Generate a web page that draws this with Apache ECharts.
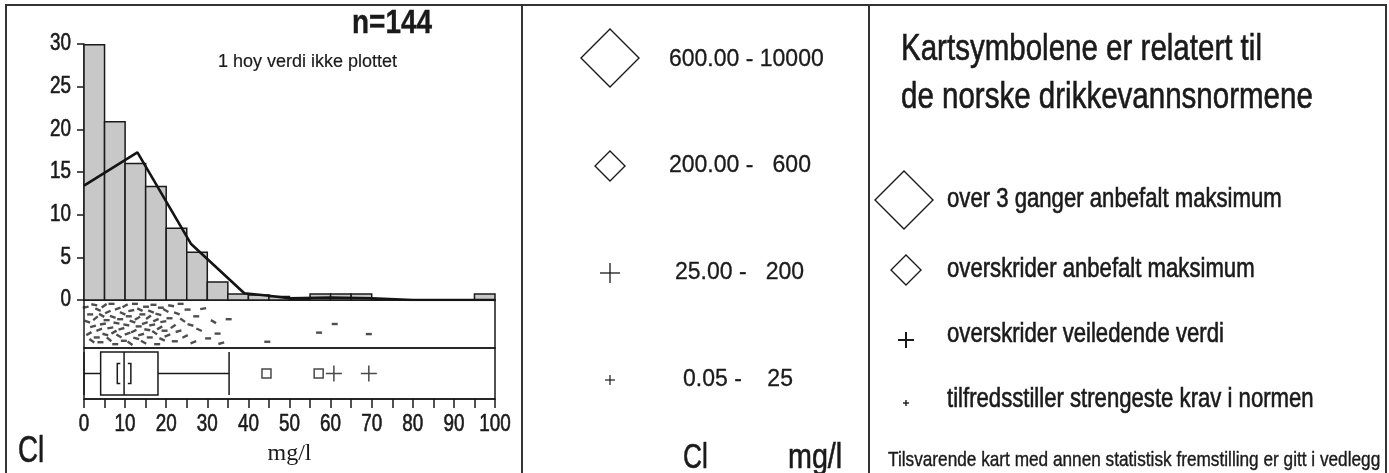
<!DOCTYPE html>
<html><head><meta charset="utf-8">
<script src="https://cdn.jsdelivr.net/npm/echarts@6/dist/echarts.min.js"></script>
<style>html,body{margin:0;padding:0;background:#fff;}#c{width:1389px;height:473px;}</style>
</head><body><div id="c"></div>
<script>
// ---- data ----
var binStarts = [0,5,10,15,20,25,30,35,40,45,50,55,60,65,70,75,80,85,90,95];
var binPercent = [29.9,20.9,16.0,13.3,8.4,5.6,2.1,0.7,0.6,0.4,0,0.7,0.7,0.7,0,0,0,0,0,0.7];
var curveX = [0,13,26,39,45,50,60,70,80,100];
var curveY = [13.4,17.3,6.6,0.8,0.5,0.2,0.3,0.2,0,0];
var yTicks = [0,5,10,15,20,25,30];
var xTicks = [0,10,20,30,40,50,60,70,80,90,100];
var boxStats = [0, 4.05, 9.75, 18.0, 35.3]; // min, q1, median, q3, upper whisker
var medianCI = [8.1, 11.4];
var outlierSquares = [44.4, 57.1];
var outlierPlus = [60.8, 69.3];
// jitter strip: [value, vertical position 0-1, dash rotation]
var stripPts = [[0.4,0.85,10],[0.8,0.55,-20],[1.2,0.30,30],[1.5,0.70,0],[1.9,0.15,-35],[2.2,0.45,15],[2.5,0.90,-10],[2.8,0.62,40],[3.1,0.22,0],[3.4,0.80,-25],[3.7,0.38,20],[4.0,0.12,0],[4.3,0.68,-30],[4.6,0.50,10],[4.9,0.88,35],
[5.2,0.28,-15],[5.5,0.58,0],[5.8,0.75,25],[6.1,0.18,-40],[6.4,0.42,10],[6.7,0.92,0],[7.0,0.65,-20],[7.3,0.33,30],[7.6,0.08,0],[7.9,0.52,-10],[8.2,0.82,20],[8.5,0.25,-30],[8.8,0.60,0],[9.1,0.40,15],[9.4,0.72,-25],
[9.7,0.15,0],[10.0,0.88,30],[10.3,0.48,-10],[10.6,0.30,20],[10.9,0.66,0],[11.2,0.10,-35],[11.5,0.78,10],[11.8,0.55,-20],[12.1,0.35,25],[12.4,0.92,0],[12.7,0.20,-15],[13.0,0.62,30],[13.3,0.45,0],[13.6,0.80,-25],[13.9,0.28,15],
[14.2,0.70,0],[14.5,0.12,-30],[14.8,0.52,20],[15.1,0.86,0],[15.4,0.38,-10],[15.7,0.64,35],[16.0,0.22,0],[16.3,0.76,-20],[16.6,0.48,10],[16.9,0.90,0],[17.2,0.32,-35],[17.5,0.58,25],[17.8,0.08,0],[18.1,0.70,-15],[18.4,0.42,30],
[18.7,0.84,0],[19.0,0.18,-25],[19.3,0.55,10],[19.6,0.36,0],[19.9,0.78,-30],[20.3,0.26,20],[20.8,0.62,0],[21.2,0.88,-10],[21.7,0.45,35],[22.1,0.14,0],[22.6,0.72,-20],[23.0,0.35,15],[23.5,0.92,0],[24.0,0.58,-35],[24.6,0.24,25],
[25.2,0.80,0],[25.9,0.48,-15],[26.6,0.12,20],[27.3,0.66,0],[28.0,0.38,-25],[29.0,0.82,10],[30.2,0.20,0],[31.5,0.55,-30],[32.5,0.30,0],[33.4,0.10,15],[35.2,0.60,0],[44.6,0.13,0],[57.2,0.32,0],[61.0,0.50,0],[69.3,0.29,0]];
var legendRanges = ['600.00 - 10000','200.00 -   600','25.00 -   200','0.05 -    25'];
var normTexts = ['over 3 ganger anbefalt maksimum','overskrider anbefalt maksimum','overskrider veiledende verdi','tilfredsstiller strengeste krav i normen'];

var REG = '"Liberation Sans", Arial, sans-serif';
var INK = '#1a1a1a';
var NX = 0.82; // horizontal squeeze to imitate a narrow grotesque

var chart = echarts.init(document.getElementById('c'), null, {renderer:'canvas'});
var histData = binStarts.map(function(s,i){return [s, s+5, binPercent[i]];});
var plusPath = 'path://M0,5L10,5M5,0L5,10';

function diamond(cx,cy,h){return {type:'polygon',shape:{points:[[cx-h,cy],[cx,cy-h],[cx+h,cy],[cx,cy+h]]},style:{fill:'none',stroke:INK,lineWidth:1.4}};}
function plus(cx,cy,h,w){return {type:'group',children:[
  {type:'line',shape:{x1:cx-h,y1:cy,x2:cx+h,y2:cy},style:{stroke:INK,lineWidth:w}},
  {type:'line',shape:{x1:cx,y1:cy-h,x2:cx,y2:cy+h},style:{stroke:INK,lineWidth:w}}]};}
function txt(x,y,s,size,o){o=o||{};var sx=(o.sx==null?NX:o.sx);return {type:'text',x:x,y:y,scaleX:sx,z:10,
  style:{text:s,x:0,y:0,fill:INK,fontSize:size,fontFamily:o.fam||REG,fontWeight:o.bold?'bold':'normal',
    stroke:INK,lineWidth:(o.bw==null?(sx<1?0.6:0.3):o.bw),
    align:o.align||'left',verticalAlign:'middle',textAlign:o.align||'left',textVerticalAlign:'middle'}};}

var graphics = [
  {type:'rect',shape:{x:6,y:5,width:1380,height:480},style:{fill:'none',stroke:'#333',lineWidth:2}},
  {type:'line',shape:{x1:522,y1:5,x2:522,y2:473},style:{stroke:'#333',lineWidth:2}},
  {type:'line',shape:{x1:869,y1:5,x2:869,y2:473},style:{stroke:'#333',lineWidth:2}},
  txt(392,24,'n=144',34,{align:'center',bold:true,bw:0.4}),
  txt(218,62,'1 hoy verdi ikke plottet',18,{sx:1,bw:0.2}),
  txt(18,452,'Cl',37,{sx:0.75}),
  // middle legend
  diamond(610,58,29), txt(669,60,legendRanges[0],23,{sx:1}),
  diamond(610,166,15), txt(669,166,legendRanges[1],23,{sx:1}),
  plus(610,273,10,1.3), txt(675,273,legendRanges[2],23,{sx:1}),
  plus(610,380,5,1.2), txt(683,380,legendRanges[3],23,{sx:1}),
  txt(683,458,'Cl',35,{sx:0.75}), txt(788,458,'mg/l',35),
  // right panel
  txt(901,50,'Kartsymbolene er relatert til',36),
  txt(901,98,'de norske drikkevannsnormene',36),
  diamond(904,200,29), txt(947,200,normTexts[0],27),
  diamond(906,270,15), txt(947,270,normTexts[1],27),
  plus(906,340,8,2), txt(947,335,normTexts[2],27),
  plus(906,403,3,1.4), txt(947,400,normTexts[3],27),
  txt(888,460,'Tilsvarende kart med annen statistisk fremstilling er gitt i vedlegg',21,{bw:0.4})
];

var option = {
  animation:false,
  backgroundColor:'#fff',
  grid:[
    {left:84,width:411,top:44,height:256,show:false},
    {left:84,width:411,top:300,height:48,show:true,borderColor:INK,borderWidth:1.5,backgroundColor:'transparent'},
    {left:84,width:411,top:348,height:51,show:true,borderColor:INK,borderWidth:1.5,backgroundColor:'transparent'}
  ],
  xAxis:[
    {gridIndex:0,type:'value',min:0,max:100,axisLine:{show:true,onZero:false,lineStyle:{color:INK,width:1.5}},axisTick:{show:false},axisLabel:{show:false},splitLine:{show:false}},
    {gridIndex:1,type:'value',min:0,max:100,show:false},
    {gridIndex:2,type:'value',min:0,max:100,interval:10,
      axisLine:{show:true,lineStyle:{color:INK,width:1.5}},
      axisTick:{show:true,inside:false,length:9,lineStyle:{color:INK,width:1.5}},
      minorTick:{show:true,splitNumber:2,length:9,lineStyle:{color:INK,width:1.5}},
      axisLabel:{show:false},
      splitLine:{show:false},
      name:'mg/l',nameLocation:'middle',nameGap:43,nameTextStyle:{fontFamily:'"Liberation Serif", "Times New Roman", serif',fontSize:24,color:INK}}
  ],
  yAxis:[
    {gridIndex:0,type:'value',min:0,max:30,interval:5,axisLine:{show:true,lineStyle:{color:INK,width:1.5}},
      axisTick:{show:true,inside:false,length:7,lineStyle:{color:INK,width:1.5}},
      axisLabel:{show:false},
      splitLine:{show:false}},
    {gridIndex:1,type:'value',min:0,max:1,show:false},
    {gridIndex:2,type:'category',data:['Cl'],show:false}
  ],
  series:[
    {type:'custom',xAxisIndex:0,yAxisIndex:0,data:histData,
      renderItem:function(params,api){
        var p0=api.coord([api.value(0),api.value(2)]), p1=api.coord([api.value(1),0]);
        return {type:'rect',shape:{x:p0[0],y:p0[1],width:p1[0]-p0[0],height:p1[1]-p0[1]},
          style:{fill:'#c8c8c8',stroke:INK,lineWidth:1.5}};
      },z:2},
    {type:'line',xAxisIndex:0,yAxisIndex:0,data:curveX.map(function(x,i){return [x,curveY[i]];}),
      symbol:'none',lineStyle:{color:'#141414',width:2.6},z:3},
    {type:'scatter',xAxisIndex:1,yAxisIndex:1,data:stripPts,symbol:'rect',symbolSize:[6,2.4],
      symbolRotate:function(v){return v[2];},itemStyle:{color:'#222'}},
    {type:'boxplot',xAxisIndex:2,yAxisIndex:2,data:[boxStats],boxWidth:[43,43],
      itemStyle:{color:'#fff',borderColor:INK,borderWidth:1.5}},
    {type:'custom',xAxisIndex:2,yAxisIndex:2,data:[[medianCI[0],medianCI[1],0]],z:5,
      renderItem:function(params,api){
        var a=api.coord([api.value(0),0]), b=api.coord([api.value(1),0]), h=10, w=3;
        return {type:'group',children:[
          {type:'polyline',shape:{points:[[a[0]+w,a[1]-h],[a[0],a[1]-h],[a[0],a[1]+h],[a[0]+w,a[1]+h]]},style:{fill:'none',stroke:INK,lineWidth:1.5}},
          {type:'polyline',shape:{points:[[b[0]-w,b[1]-h],[b[0],b[1]-h],[b[0],b[1]+h],[b[0]-w,b[1]+h]]},style:{fill:'none',stroke:INK,lineWidth:1.5}}
        ]};
      }},
    {type:'scatter',xAxisIndex:2,yAxisIndex:2,data:outlierSquares.map(function(v){return [v,0];}),symbol:'rect',symbolSize:9,
      itemStyle:{color:'#fff',borderColor:INK,borderWidth:1.5},z:5},
    {type:'scatter',xAxisIndex:2,yAxisIndex:2,data:outlierPlus.map(function(v){return [v,0];}),symbol:plusPath,symbolSize:16,
      itemStyle:{color:'none',borderColor:INK,borderWidth:1.5},z:5}
  ]
};
chart.setOption(option);

// tick labels placed through the axes' own scales (narrow lettering)
yTicks.forEach(function(v){
  var py = chart.convertToPixel({yAxisIndex:0}, v);
  graphics.push(txt(71, py, String(v), 23, {align:'right'}));
});
xTicks.forEach(function(v){
  var px = chart.convertToPixel({xAxisIndex:2}, v);
  graphics.push(txt(px, 425, String(v), 23, {align:'center'}));
});
chart.setOption({graphic:graphics});
</script></body></html>
